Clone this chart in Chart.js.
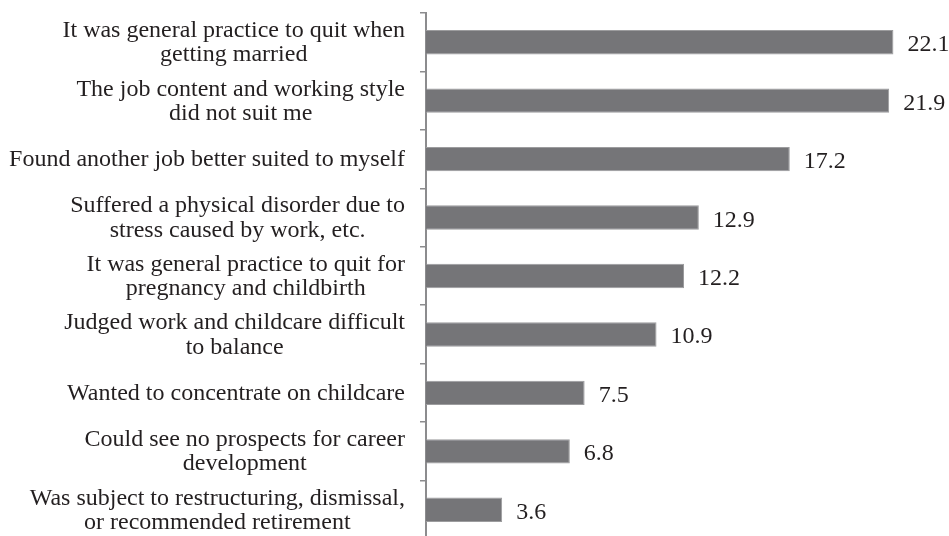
<!DOCTYPE html>
<html>
<head>
<meta charset="utf-8">
<script src="https://cdn.jsdelivr.net/npm/chart.js@4/dist/chart.umd.min.js"></script>
<style>
html,body{margin:0;padding:0;background:#fff;overflow:hidden;}
#wrap{width:949px;height:536px;position:relative;overflow:hidden;}
</style>
</head>
<body>
<div id="wrap"><canvas id="c" width="949" height="539"></canvas></div>
<script>
const categories = [
  ["It was general practice to quit when", "getting married"],
  ["The job content and working style", "did not suit me"],
  ["Found another job better suited to myself"],
  ["Suffered a physical disorder due to", "stress caused by work, etc."],
  ["It was general practice to quit for", "pregnancy and childbirth"],
  ["Judged work and childcare difficult", "to balance"],
  ["Wanted to concentrate on childcare"],
  ["Could see no prospects for career", "development"],
  ["Was subject to restructuring, dismissal,", "or recommended retirement"]
];
const values = [22.1, 21.9, 17.2, 12.9, 12.2, 10.9, 7.5, 6.8, 3.6];
const valueLabels = ["22.1", "21.9", "17.2", "12.9", "12.2", "10.9", "7.5", "6.8", "3.6"];

const FONT = '24px "Liberation Serif", "Times New Roman", serif';
const TEXT = '#231f20';
const AXIS_X = 426;

const labelPlugin = {
  id: 'labelPlugin',
  afterDraw(chart) {
    const ctx = chart.ctx;
    const y = chart.scales.y;
    const meta = chart.getDatasetMeta(0);
    ctx.save();
    ctx.font = FONT;
    ctx.fillStyle = TEXT;
    ctx.textBaseline = 'alphabetic';
    const lh = 24.3;
    categories.forEach((lines, i) => {
      const cy = y.getPixelForTick(i);
      let w = 0;
      lines.forEach(l => { w = Math.max(w, ctx.measureText(l).width); });
      const right = AXIS_X - 21;
      const cx = right - w / 2;
      ctx.textAlign = 'center';
      const start = cy + 7 - (lines.length - 1) * lh / 2;
      lines.forEach((l, k) => ctx.fillText(l, cx, start + k * lh));
    });
    ctx.textAlign = 'left';
    meta.data.forEach((bar, i) => {
      ctx.fillText(valueLabels[i], bar.x + 14, bar.y + 9);
    });
    ctx.restore();
  }
};

new Chart(document.getElementById('c'), {
  type: 'bar',
  data: {
    labels: categories,
    datasets: [{
      data: values,
      backgroundColor: '#757578',
      borderColor: '#9c9c9e',
      borderWidth: 1,
      categoryPercentage: 1,
      barPercentage: 0.417
    }]
  },
  options: {
    indexAxis: 'y',
    responsive: false,
    animation: false,
    devicePixelRatio: 1,
    layout: { padding: { top: 13, bottom: 0, left: 0, right: 0 } },
    plugins: { legend: { display: false }, tooltip: { enabled: false } },
    scales: {
      x: {
        display: false,
        min: 0,
        max: (949 - AXIS_X) / 21.15
      },
      y: {
        position: 'left',
        afterFit(scale) { scale.width = AXIS_X; },
        ticks: { display: false },
        border: { display: true, color: '#8c8c8e', width: 2 },
        grid: {
          display: true,
          offset: true,
          drawOnChartArea: false,
          drawTicks: true,
          tickLength: 6,
          color: '#8c8c8e',
          lineWidth: 1.5
        }
      }
    }
  },
  plugins: [labelPlugin]
});
</script>
</body>
</html>
